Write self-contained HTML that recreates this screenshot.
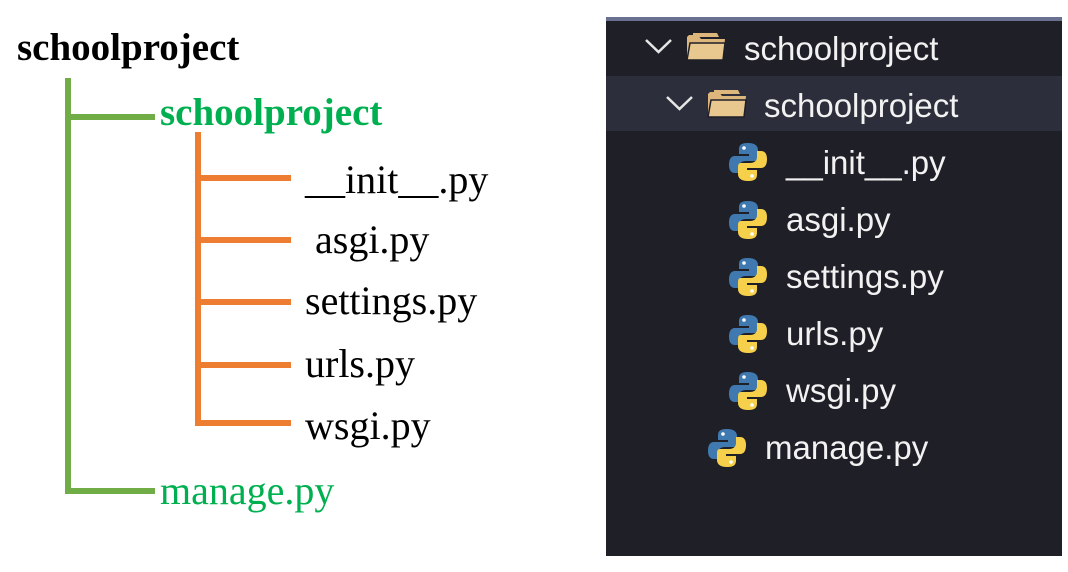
<!DOCTYPE html>
<html><head><meta charset="utf-8"><style>
html,body{margin:0;padding:0;background:#fff;}
svg{display:block;}
</style></head><body>
<svg width="1068" height="572" viewBox="0 0 1068 572" xmlns="http://www.w3.org/2000/svg">
<defs>
<g id="py">
<path d="M0,-19 C-8,-19 -9,-16 -9,-12 L-9,-8 L1,-8 L1,-6 L-13,-6 C-18,-6 -19,-1 -19,3 C-19,8 -17,11 -13,11 L-9,11 L-9,5 C-9,1 -6,-1 -2,-1 L7,-1 C10,-1 10,-4 10,-6 L10,-12 C10,-16 7,-19 0,-19 Z" fill="#3f79b0"/>
<path d="M0,19 C8,19 9,16 9,12 L9,8 L-1,8 L-1,6 L13,6 C18,6 19,1 19,-3 C19,-8 17,-11 13,-11 L9,-11 L9,-5 C9,-1 6,1 2,1 L-7,1 C-10,1 -10,4 -10,6 L-10,12 C-10,16 -7,19 0,19 Z" fill="#f6d04a"/>
<circle cx="-4" cy="-14" r="1.8" fill="#fff"/>
<circle cx="4" cy="14" r="1.8" fill="#fff"/>
</g>
<g id="folder">
<path d="M0,4 L0,27 L36,27 L38,6 L14,6 L11,2 L2,2 Z" fill="#dcb67a"/>
<path d="M6,0 L30,0 L32,4 L6,4 Z" fill="#dcb67a"/>
<path d="M3,10 L38,10 L36,27 L0,27 Z" fill="#e8c88e" stroke="#1e1f29" stroke-width="1.5"/>
</g>
</defs>
<!-- left tree -->
<g fill="#70ad47">
<rect x="65" y="78" width="6" height="416"/>
<rect x="65" y="114" width="90" height="6"/>
<rect x="65" y="488" width="90" height="6"/>
</g>
<g fill="#ed7d31">
<rect x="195" y="132" width="6" height="294"/>
<rect x="195" y="175" width="96" height="6"/>
<rect x="195" y="237" width="96" height="6"/>
<rect x="195" y="299" width="96" height="6"/>
<rect x="195" y="362" width="96" height="6"/>
<rect x="195" y="420" width="96" height="6"/>
</g>
<g font-family="Liberation Serif, serif">
<text x="17" y="60" font-size="39" font-weight="bold" fill="#000">schoolproject</text>
<text x="160" y="125" font-size="39" font-weight="bold" fill="#00b050">schoolproject</text>
<g font-size="40" fill="#000">
<text x="305" y="193">__init__.py</text>
<text x="315" y="253">asgi.py</text>
<text x="305" y="314">settings.py</text>
<text x="305" y="377">urls.py</text>
<text x="305" y="439">wsgi.py</text>
</g>
<text x="160" y="504" font-size="40" fill="#00b050">manage.py</text>
</g>
<!-- right panel -->
<rect x="606" y="17" width="456" height="539" fill="#1f1f28"/>
<rect x="606" y="17" width="456" height="4" fill="#6a7190"/>
<rect x="606" y="76" width="456" height="55" fill="#2c2e3b"/>
<g fill="none" stroke="#e6e6e6" stroke-width="2.5">
<polyline points="646,40 658.5,52 671,40"/>
<polyline points="667,97 679.5,109 692,97"/>
</g>
<use href="#folder" x="687" y="33"/>
<use href="#folder" x="708" y="90"/>
<use href="#py" x="748" y="162"/>
<use href="#py" x="748" y="220"/>
<use href="#py" x="748" y="277"/>
<use href="#py" x="748" y="334"/>
<use href="#py" x="748" y="391"/>
<use href="#py" x="727" y="448"/>
<g font-family="Liberation Sans, sans-serif" font-size="33" fill="#f2f2f2">
<text x="744" y="60">schoolproject</text>
<text x="764" y="117">schoolproject</text>
<text x="786" y="174">__init__.py</text>
<text x="786" y="231">asgi.py</text>
<text x="786" y="288">settings.py</text>
<text x="786" y="345">urls.py</text>
<text x="786" y="402">wsgi.py</text>
<text x="765" y="459">manage.py</text>
</g>
</svg>
</body></html>
